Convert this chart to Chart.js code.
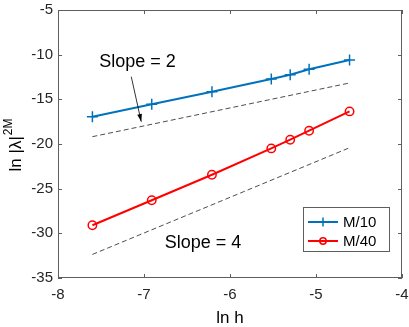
<!DOCTYPE html>
<html>
<head>
<meta charset="utf-8">
<script src="https://cdn.jsdelivr.net/npm/chart.js@4/dist/chart.umd.min.js"></script>
<style>
  html, body { margin: 0; padding: 0; background: #fff; }
  #wrap { width: 409px; height: 327px; }
</style>
</head>
<body>
<div id="wrap"><canvas id="plot" width="409" height="327"></canvas></div>
<script>
// ln h for h = 1/2000 ... 1/100
const lnH = [-7.60, -6.91, -6.21, -5.52, -5.30, -5.08, -4.61];
const m10 = [-16.95, -15.56, -14.15, -12.73, -12.24, -11.64, -10.60];
const m40 = [-29.10, -26.30, -23.44, -20.49, -19.52, -18.51, -16.35];

// reference slope lines
const refX = [-7.60, -4.61];
const slope2 = [-19.18, -13.17];
const slope4 = [-32.36, -20.42];

const xTicks = [-8, -7, -6, -5, -4];
const yTicks = [-35, -30, -25, -20, -15, -10, -5];

const seriesNames = ['M/10', 'M/40'];
const blue = '#0072BD';
const red = '#FF0000';
const textColor = '#262626';
const boxColor = '#5e5e5e';
const fontFamily = '"Liberation Sans", Arial, Helvetica, sans-serif';

function pairs(xs, ys) {
  return xs.map((v, i) => ({ x: v, y: ys[i] }));
}

function drawMarker(ctx, style, px, py, color) {
  ctx.save();
  ctx.strokeStyle = color;
  ctx.lineWidth = 1.5;
  ctx.beginPath();
  if (style === 'cross') {
    ctx.moveTo(px - 4.5, py); ctx.lineTo(px + 4.5, py);
    ctx.moveTo(px, py - 4.5); ctx.lineTo(px, py + 4.5);
  } else {
    ctx.arc(px, py, 3.2, 0, Math.PI * 2);
  }
  ctx.stroke();
  ctx.restore();
}

// box, inward ticks, annotations, legend and y label
const framePlugin = {
  id: 'frame',
  afterDraw(chart) {
    const { ctx, chartArea: a, scales: { x, y } } = chart;
    ctx.save();
    ctx.strokeStyle = boxColor;
    ctx.lineWidth = 1;
    ctx.strokeRect(Math.round(a.left) + 0.5, Math.round(a.top) + 0.5,
      Math.round(a.right - a.left) - 1, Math.round(a.bottom - a.top) - 1);

    const tl = 4;
    ctx.beginPath();
    xTicks.forEach(v => {
      const px = Math.round(x.getPixelForValue(v)) + 0.5;
      ctx.moveTo(px, a.bottom); ctx.lineTo(px, a.bottom - tl);
      ctx.moveTo(px, a.top); ctx.lineTo(px, a.top + tl);
    });
    yTicks.forEach(v => {
      const py = Math.round(y.getPixelForValue(v)) + 0.5;
      ctx.moveTo(a.left, py); ctx.lineTo(a.left + tl, py);
      ctx.moveTo(a.right, py); ctx.lineTo(a.right - tl, py);
    });
    ctx.stroke();

    // annotations
    ctx.fillStyle = '#000';
    ctx.font = '18px ' + fontFamily;
    ctx.textAlign = 'left';
    ctx.textBaseline = 'alphabetic';
    ctx.fillText('Slope = 2', x.getPixelForValue(-7.52), y.getPixelForValue(-11.35));
    ctx.fillText('Slope = 4', x.getPixelForValue(-6.76), y.getPixelForValue(-31.62));

    // arrow
    const x0 = x.getPixelForValue(-7.148), y0 = y.getPixelForValue(-12.47);
    const x1 = x.getPixelForValue(-7.032), y1 = y.getPixelForValue(-17.51);
    const ang = Math.atan2(y1 - y0, x1 - x0);
    ctx.strokeStyle = '#000';
    ctx.lineWidth = 0.8;
    ctx.beginPath();
    ctx.moveTo(x0, y0); ctx.lineTo(x1, y1);
    ctx.stroke();
    ctx.beginPath();
    ctx.moveTo(x1, y1);
    ctx.lineTo(x1 - 8 * Math.cos(ang - 0.3), y1 - 8 * Math.sin(ang - 0.3));
    ctx.lineTo(x1 - 8 * Math.cos(ang + 0.3), y1 - 8 * Math.sin(ang + 0.3));
    ctx.closePath();
    ctx.fill();

    // legend
    const lx = 303.5, ly = 207.5, lw = 86, lh = 44;
    ctx.fillStyle = '#fff';
    ctx.fillRect(lx, ly, lw, lh);
    ctx.strokeStyle = boxColor;
    ctx.lineWidth = 1;
    ctx.strokeRect(lx, ly, lw, lh);
    ctx.font = '15px ' + fontFamily;
    ctx.textBaseline = 'middle';
    const styles = ['cross', 'circle'];
    [222, 241].forEach((rowY, i) => {
      const ds = chart.data.datasets[i];
      ctx.strokeStyle = ds.borderColor;
      ctx.lineWidth = 2;
      ctx.beginPath();
      ctx.moveTo(308, rowY); ctx.lineTo(338, rowY);
      ctx.stroke();
      drawMarker(ctx, styles[i], 323, rowY, ds.borderColor);
      ctx.fillStyle = '#000';
      ctx.fillText(ds.label, 343, rowY + 1);
    });

    // y axis label: ln |λ|^2M
    ctx.translate(21, 145);
    ctx.rotate(-Math.PI / 2);
    ctx.fillStyle = '#000';
    ctx.textBaseline = 'alphabetic';
    ctx.font = '17px ' + fontFamily;
    const mainTxt = 'ln |λ|';
    const w1 = ctx.measureText(mainTxt).width;
    ctx.font = '12px ' + fontFamily;
    const w2 = ctx.measureText('2M').width;
    const start = -(w1 + w2 + 1) / 2;
    ctx.font = '17px ' + fontFamily;
    ctx.fillText(mainTxt, start, 0);
    ctx.font = '12px ' + fontFamily;
    ctx.fillText('2M', start + w1 + 1, -9);
    ctx.restore();

    // x axis label
    ctx.save();
    ctx.fillStyle = '#000';
    ctx.font = '17px ' + fontFamily;
    ctx.textAlign = 'center';
    ctx.textBaseline = 'alphabetic';
    ctx.fillText('ln h', (a.left + a.right) / 2, 323);
    ctx.restore();
  }
};

new Chart(document.getElementById('plot'), {
  type: 'line',
  data: {
    datasets: [
      {
        label: seriesNames[0],
        data: pairs(lnH, m10),
        borderColor: blue,
        backgroundColor: blue,
        borderWidth: 2,
        pointStyle: 'cross',
        pointRadius: 5.5,
        pointBorderWidth: 1.5
      },
      {
        label: seriesNames[1],
        data: pairs(lnH, m40),
        borderColor: red,
        backgroundColor: 'rgba(0,0,0,0)',
        borderWidth: 2,
        pointStyle: 'circle',
        pointRadius: 4.2,
        pointBorderWidth: 1.5
      },
      {
        label: 'slope 2',
        data: pairs(refX, slope2),
        borderColor: '#000',
        borderWidth: 0.7,
        borderDash: [5, 3],
        pointRadius: 0
      },
      {
        label: 'slope 4',
        data: pairs(refX, slope4),
        borderColor: '#000',
        borderWidth: 0.7,
        borderDash: [5, 3],
        pointRadius: 0
      }
    ]
  },
  options: {
    responsive: false,
    animation: false,
    layout: { padding: { top: 10, right: 5, left: 0, bottom: 0 } },
    plugins: {
      legend: { display: false },
      tooltip: { enabled: false }
    },
    scales: {
      x: {
        type: 'linear',
        min: -8,
        max: -4,
        afterBuildTicks: scale => { scale.ticks = xTicks.map(v => ({ value: v })); },
        afterFit: scale => { scale.height = 49; scale.paddingLeft = 0; scale.paddingRight = 0; },
        grid: { display: false, drawTicks: false },
        border: { display: false },
        ticks: {
          color: textColor,
          padding: 8,
          maxRotation: 0,
          font: { size: 15, family: fontFamily }
        }
      },
      y: {
        type: 'linear',
        min: -35,
        max: -5,
        afterBuildTicks: scale => { scale.ticks = yTicks.map(v => ({ value: v })); },
        afterFit: scale => { scale.width = 58; scale.paddingTop = 0; scale.paddingBottom = 0; },
        grid: { display: false, drawTicks: false },
        border: { display: false },
        ticks: {
          color: textColor,
          padding: 5,
          font: { size: 15, family: fontFamily }
        }
      }
    }
  },
  plugins: [framePlugin]
});
</script>
</body>
</html>
